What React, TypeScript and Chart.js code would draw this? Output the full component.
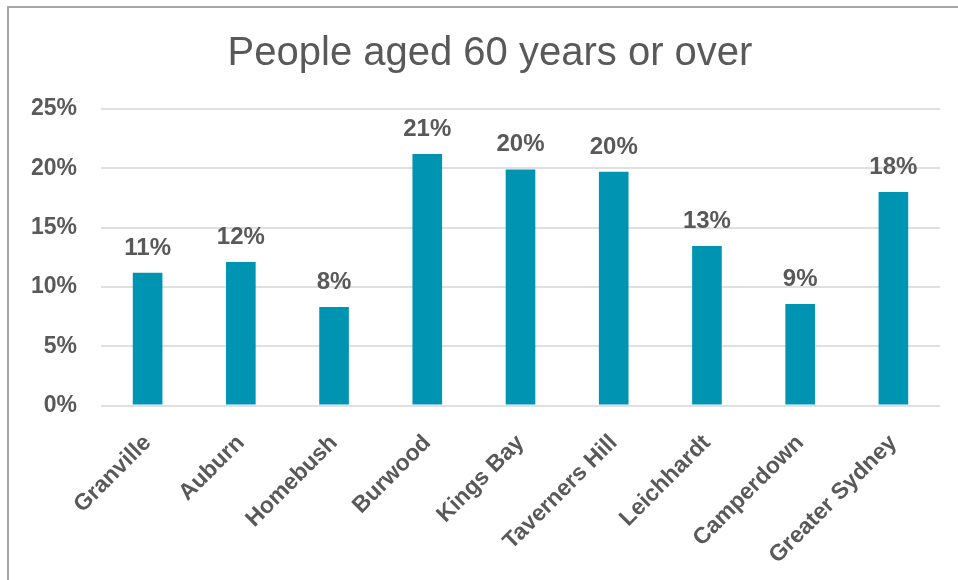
import React, { useEffect, useRef } from 'react';
import { Chart, registerables } from 'chart.js';

Chart.register(...registerables);

const titleText = 'People aged 60 years or over';
const categories = ['Granville', 'Auburn', 'Homebush', 'Burwood', 'Kings Bay', 'Taverners Hill', 'Leichhardt', 'Camperdown', 'Greater Sydney'];
const values = [11.2, 12.1, 8.3, 21.2, 19.9, 19.7, 13.45, 8.55, 18.0];
const yMin = 0;
const yMax = 25;
const yStep = 5;

const TEXT = '#595959';
const BAR = '#0094B3';
const GRID = '#e0e0e0';

const CANVAS_W = 962;
const CANVAS_H = 571;

const dataLabels = {
  id: 'dataLabels',
  afterDatasetsDraw(chart: any) {
    const ctx = chart.ctx;
    const meta = chart.getDatasetMeta(0);
    ctx.save();
    ctx.font = 'bold 24px "Liberation Sans"';
    ctx.fillStyle = TEXT;
    ctx.textAlign = 'center';
    ctx.textBaseline = 'alphabetic';
    meta.data.forEach((el: any, i: number) => {
      ctx.fillText(Math.round(values[i]) + '%', el.x, el.y - 18);
    });
    ctx.restore();
  },
};

export default function App() {
  const ref = useRef<HTMLCanvasElement | null>(null);

  useEffect(() => {
    if (!ref.current) return;
    const chart = new Chart(ref.current, {
      type: 'bar',
      data: {
        labels: categories,
        datasets: [
          {
            data: values,
            backgroundColor: BAR,
            borderWidth: 0,
            barPercentage: 0.318,
            categoryPercentage: 1,
          },
        ],
      },
      options: {
        responsive: false,
        animation: false,
        layout: { padding: 0 },
        plugins: {
          legend: { display: false },
          tooltip: { enabled: false },
          title: {
            display: true,
            text: titleText,
            color: TEXT,
            font: { family: '"Liberation Sans"', size: 40, weight: 'normal', lineHeight: 1.2 },
            padding: { top: 20.5, bottom: 31.5 },
          },
        },
        scales: {
          x: {
            grid: { display: false },
            border: { display: false },
            ticks: {
              color: TEXT,
              font: { family: '"Liberation Sans"', size: 23, weight: 'bold' },
              maxRotation: 45,
              minRotation: 45,
              autoSkip: false,
              padding: 16,
            },
            afterFit: (s: any) => {
              s.height = CANVAS_H - 396.5;
            },
          },
          y: {
            min: yMin,
            max: yMax,
            grid: { color: GRID, lineWidth: 2, drawTicks: false },
            border: { display: false },
            ticks: {
              stepSize: yStep,
              color: TEXT,
              font: { family: '"Liberation Sans"', size: 23, weight: 'bold' },
              padding: 24,
              callback: (v: any) => v + '%',
            },
            afterFit: (s: any) => {
              s.width = 92;
            },
          },
          y2: {
            position: 'right',
            grid: { display: false },
            border: { display: false },
            ticks: { display: false },
            afterFit: (s: any) => {
              s.width = 31;
            },
          },
        },
      },
      plugins: [dataLabels],
    });
    return () => chart.destroy();
  }, []);

  return (
    <div style={{ position: 'absolute', left: 0, top: 0, width: 958, height: 580, overflow: 'hidden', background: '#fff' }}>
      <div
        style={{
          position: 'absolute',
          left: 7,
          top: 6,
          width: 980,
          height: 640,
          border: '2px solid #a6a6a6',
          boxSizing: 'border-box',
        }}
      />
      <canvas ref={ref} width={CANVAS_W} height={CANVAS_H} style={{ position: 'absolute', left: 9, top: 9, display: 'block' }} />
    </div>
  );
}
